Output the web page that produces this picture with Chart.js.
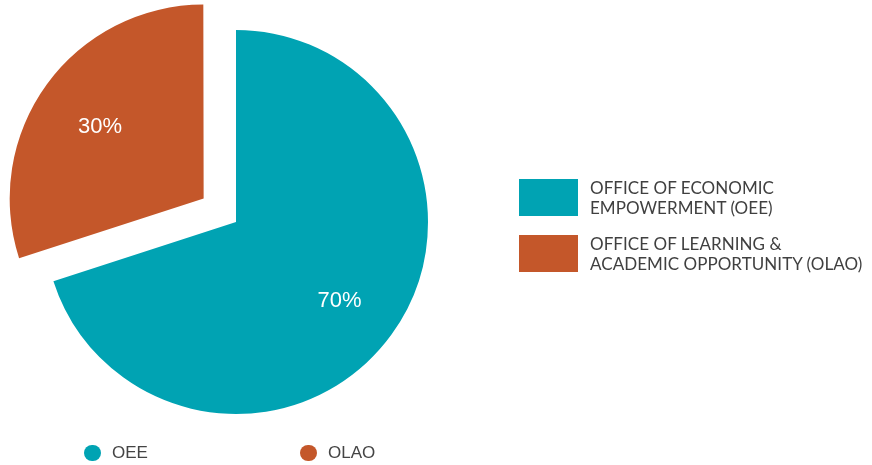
<!DOCTYPE html>
<html>
<head>
<meta charset="utf-8">
<script src="https://cdn.jsdelivr.net/npm/chart.js@4.4.1/dist/chart.umd.min.js"></script>
<style>
  html, body { margin: 0; padding: 0; background: #ffffff; }
  #wrap { position: relative; width: 872px; height: 465px; overflow: hidden; }
  #c { position: absolute; left: 0; top: 0; }
  .rl { position: absolute; left: 519px; display: flex; align-items: center; }
  .rl .box { width: 59px; height: 37px; flex: none; }
  .rl .txt { margin-left: 12px; font-family: "Lato", sans-serif; font-size: 17px; line-height: 20px; color: #404040; letter-spacing: 0.05px; }
  .bl { position: absolute; top: 444px; display: flex; align-items: center; height: 18px; }
  .bl .dot { width: 16.5px; height: 16.5px; border-radius: 50%; flex: none; }
  .bl .txt { margin-left: 11.5px; font-family: "Liberation Sans", Arial, sans-serif; font-size: 17px; color: #444; }
</style>
</head>
<body>
<div id="wrap">
  <canvas id="c" width="872" height="465"></canvas>
</div>
<script>
// ---- data ----
const categories = ["OEE", "OLAO"];
const fullNames = [
  ["OFFICE OF ECONOMIC", "EMPOWERMENT (OEE)"],
  ["OFFICE OF LEARNING &", "ACADEMIC OPPORTUNITY (OLAO)"]
];
const shares = [70, 30];
const colors = ["#00A3B3", "#C4572A"];
const sliceOffsets = [0, 160];

// ---- percentage labels plugin ----
const pctLabels = {
  id: 'pctLabels',
  afterDatasetsDraw(chart) {
    const ctx = chart.ctx;
    const meta = chart.getDatasetMeta(0);
    const data = chart.data.datasets[0].data;
    const total = data.reduce((a, b) => a + b, 0);
    ctx.save();
    ctx.fillStyle = '#ffffff';
    ctx.font = '22px "Liberation Sans", Arial, sans-serif';
    ctx.textAlign = 'center';
    ctx.textBaseline = 'alphabetic';
    meta.data.forEach((arc, i) => {
      const p = arc.getProps(['x', 'y', 'startAngle', 'endAngle', 'outerRadius'], true);
      const mid = (p.startAngle + p.endAngle) / 2;
      const off = (arc.options.offset || 0) / 4;
      const r = p.outerRadius * 0.667 + off;
      const x = p.x + Math.cos(mid) * r;
      const y = p.y + Math.sin(mid) * r;
      ctx.fillText(Math.round(data[i] / total * 100) + '%', x, y + 9.8);
    });
    ctx.restore();
  }
};

new Chart(document.getElementById('c'), {
  type: 'pie',
  data: {
    labels: categories,
    datasets: [{
      data: shares,
      backgroundColor: colors,
      borderWidth: 0,
      offset: sliceOffsets,
      radius: 192
    }]
  },
  options: {
    responsive: false,
    animation: false,
    layout: { padding: { left: 0, right: 400, top: 0, bottom: 21 } },
    plugins: {
      legend: { display: false },
      tooltip: { enabled: false }
    }
  },
  plugins: [pctLabels]
});

// ---- HTML legends built from the arrays ----
const wrap = document.getElementById('wrap');
const rightTops = [177.5, 233.5];
categories.forEach((c, i) => {
  const d = document.createElement('div');
  d.className = 'rl';
  d.style.top = rightTops[i] + 'px';
  d.innerHTML = '<div class="box" style="background:' + colors[i] + '"></div><div class="txt">' +
    fullNames[i].map(s => s.replace(/&/g, '&amp;')).join('<br>') + '</div>';
  wrap.appendChild(d);
});
const bottomLefts = [84, 300];
categories.forEach((c, i) => {
  const d = document.createElement('div');
  d.className = 'bl';
  d.style.left = bottomLefts[i] + 'px';
  d.innerHTML = '<div class="dot" style="background:' + colors[i] + '"></div><div class="txt">' + c + '</div>';
  wrap.appendChild(d);
});
</script>
</body>
</html>
